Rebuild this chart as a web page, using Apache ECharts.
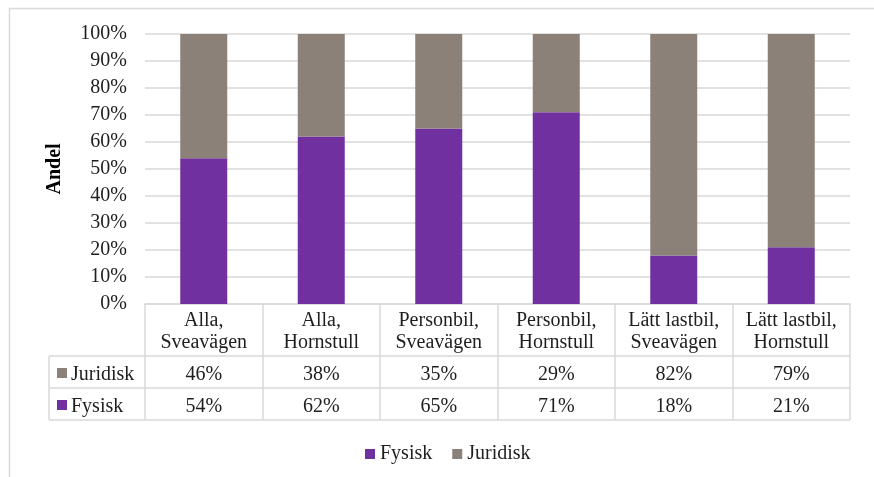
<!DOCTYPE html>
<html>
<head>
<meta charset="utf-8">
<script src="https://cdn.jsdelivr.net/npm/echarts@6/dist/echarts.min.js"></script>
<style>
  html, body { margin: 0; padding: 0; background: #fff; }
  #chart { width: 874px; height: 477px; }
</style>
</head>
<body>
<div id="chart"></div>
<script>
// data
const categories = [
  'Alla,\nSveavägen', 'Alla,\nHornstull',
  'Personbil,\nSveavägen', 'Personbil,\nHornstull',
  'Lätt lastbil,\nSveavägen', 'Lätt lastbil,\nHornstull'
];
const fysisk = [54, 62, 65, 71, 18, 21];
const juridisk = [46, 38, 35, 29, 82, 79];

const PURPLE = '#7030a0';
const GRAY = '#8b8178';
const LINE = '#d9d9d9';
const TEXT = '#1e1e1e';
const FONT = "'Liberation Serif', 'Times New Roman', serif";
const FS = 20;

// layout
const W = 874, H = 477;
const gLeft = 145, gRight = 24, gTop = 34, gBottom = 173;
const plotBottom = H - gBottom;      // y of the 0% line
const headH = 52, rowH = 32;
const tableLeft = 49;
const tableRight = W - gRight;
const row1 = plotBottom + headH;      // top of Juridisk row
const row2 = row1 + rowH;             // top of Fysisk row
const row3 = row2 + rowH;             // bottom of table

const chart = echarts.init(document.getElementById('chart'), null, { renderer: 'canvas' });

chart.setOption({
  animation: false,
  textStyle: { fontFamily: FONT },
  grid: { left: gLeft, right: gRight, top: gTop, bottom: gBottom },
  legend: {
    top: 439, left: 360,
    data: ['Fysisk', 'Juridisk'],
    icon: 'rect', itemWidth: 10, itemHeight: 10, itemGap: 20,
    textStyle: { fontFamily: FONT, fontSize: FS, color: TEXT }
  },
  xAxis: {
    type: 'category',
    data: categories,
    axisLine: { lineStyle: { color: LINE, width: 1.5 } },
    axisTick: { show: true, interval: 0, length: headH + 2 * rowH, lineStyle: { color: LINE, width: 1.5 } },
    axisLabel: {
      interval: 0, margin: 6,
      fontFamily: FONT, fontSize: FS, color: TEXT, lineHeight: 22
    }
  },
  yAxis: {
    type: 'value', min: 0, max: 100, interval: 10,
    name: 'Andel', nameLocation: 'middle', nameRotate: 90, nameGap: 80,
    nameTextStyle: { fontFamily: FONT, fontSize: FS, fontWeight: 'bold', color: '#000' },
    axisLabel: { formatter: '{value}%', fontFamily: FONT, fontSize: FS, color: TEXT, margin: 18 },
    splitLine: { lineStyle: { color: LINE, width: 1.5 } },
    axisLine: { show: false }, axisTick: { show: false }
  },
  series: [
    { name: 'Fysisk', type: 'bar', stack: 'a', data: fysisk, barWidth: '40%', itemStyle: { color: PURPLE } },
    { name: 'Juridisk', type: 'bar', stack: 'a', data: juridisk, itemStyle: { color: GRAY } }
  ]
});

// data table under the axis
const rows = [
  { name: 'Juridisk', color: GRAY, values: juridisk, y: row1 },
  { name: 'Fysisk', color: PURPLE, values: fysisk, y: row2 }
];
const hline = y => ({ type: 'line', shape: { x1: tableLeft, y1: y, x2: tableRight, y2: y }, style: { stroke: LINE, lineWidth: 1.5 } });
const graphic = [
  // outer chart border (runs off the right and bottom edge)
  { type: 'rect', shape: { x: 9.5, y: 8.5, width: W, height: H }, style: { fill: null, stroke: LINE, lineWidth: 1.5 }, silent: true },
  hline(row1), hline(row2), hline(row3),
  { type: 'line', shape: { x1: tableLeft, y1: row1, x2: tableLeft, y2: row3 }, style: { stroke: LINE, lineWidth: 1.5 } }
];
rows.forEach(r => {
  const cy = r.y + rowH / 2 + 2;
  graphic.push({ type: 'rect', shape: { x: tableLeft + 8, y: cy - 6, width: 10, height: 10 }, style: { fill: r.color } });
  graphic.push({ type: 'text', x: tableLeft + 22, y: cy + 1, style: { text: r.name, font: FS + 'px ' + FONT, fill: TEXT, verticalAlign: 'middle' } });
  r.values.forEach((v, i) => {
    const x = chart.convertToPixel({ xAxisIndex: 0 }, i);
    graphic.push({ type: 'text', x: x, y: cy + 1, style: { text: v + '%', font: FS + 'px ' + FONT, fill: TEXT, align: 'center', verticalAlign: 'middle' } });
  });
});
chart.setOption({ graphic: graphic });
</script>
</body>
</html>
